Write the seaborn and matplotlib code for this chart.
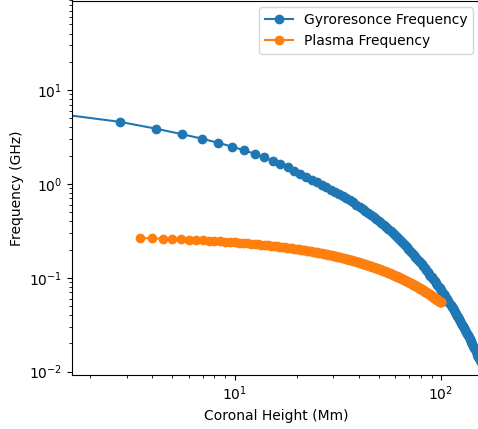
import numpy as np
import pandas as pd
import seaborn as sns
import matplotlib
matplotlib.use("Agg")
import matplotlib.pyplot as plt

# gyroresonance frequency vs coronal height
gyro_height = [
    1.39, 2.78, 4.17, 5.56, 6.95, 8.34, 9.73, 11.12, 12.51, 13.9,
    15.29, 16.68, 18.07, 19.46, 20.85, 22.24, 23.63, 25.02, 26.41, 27.8,
    29.19, 30.58, 31.97, 33.36, 34.75, 36.14, 37.53, 38.92, 40.31, 41.7,
    43.09, 44.48, 45.87, 47.26, 48.65, 50.04, 51.43, 52.82, 54.21, 55.6,
    56.99, 58.38, 59.77, 61.16, 62.55, 63.94, 65.33, 66.72, 68.11, 69.5,
    70.89, 72.28, 73.67, 75.06, 76.45, 77.84, 79.23, 80.62, 82.01, 83.4,
    84.79, 86.18, 87.57, 88.96, 90.35, 91.74, 93.13, 94.52, 95.91, 97.3,
    98.69, 100.08, 101.47, 102.86, 104.25, 105.64, 107.03, 108.42, 109.81, 111.2,
    112.59, 113.98, 115.37, 116.76, 118.15, 119.54, 120.93, 122.32, 123.71, 125.1,
    126.49, 127.88, 129.27, 130.66, 132.05, 133.44, 134.83, 136.22, 137.61, 139.0,
    140.39, 141.78, 143.17, 144.56, 145.95, 147.34, 148.73, 150.12, 151.51, 152.9,
    154.29, 155.68,
]
gyro_freq = [
    5.59, 4.59, 3.88, 3.39, 3.04, 2.74, 2.50, 2.28, 2.10, 1.92,
    1.760, 1.622, 1.497, 1.386, 1.285, 1.193, 1.109, 1.038, 0.9725, 0.9167,
    0.8676, 0.8226, 0.7806, 0.7413, 0.7044, 0.6691, 0.6358, 0.6029, 0.5716, 0.5425,
    0.5149, 0.4890, 0.4646, 0.4415, 0.4197, 0.3991, 0.3796, 0.3612, 0.3437, 0.3272,
    0.3115, 0.2968, 0.2827, 0.2693, 0.2567, 0.2446, 0.2332, 0.2224, 0.2121, 0.2022,
    0.1929, 0.1841, 0.1757, 0.1676, 0.1600, 0.1527, 0.1458, 0.1392, 0.1330, 0.1270,
    0.1213, 0.1158, 0.1107, 0.1057, 0.1010, 0.09654, 0.09226, 0.08817, 0.08429, 0.08057,
    0.07702, 0.07363, 0.07040, 0.06731, 0.06437, 0.06156, 0.05887, 0.05630, 0.05385, 0.05152,
    0.04928, 0.04715, 0.04511, 0.04316, 0.04129, 0.03951, 0.03782, 0.03619, 0.03463, 0.03314,
    0.03172, 0.03036, 0.02906, 0.02782, 0.02663, 0.02549, 0.02440, 0.02336, 0.02237, 0.02142,
    0.02051, 0.01964, 0.01881, 0.01801, 0.01725, 0.01652, 0.01582, 0.01515, 0.01451, 0.01390,
    0.01331, 0.01275,
]

# plasma frequency vs coronal height
plasma_height = [
    3.5, 4, 4.5, 5, 5.5, 6, 6.5, 7, 7.5, 8, 8.5, 9, 9.5,
    10, 10.5, 11, 11.5, 12, 12.5, 13, 13.5, 14, 14.5, 15, 15.5, 16, 16.5, 17, 17.5, 18, 18.5, 19, 19.5,
    20, 20.5, 21, 21.5, 22, 22.5, 23, 23.5, 24, 24.5, 25, 25.5, 26, 26.5, 27, 27.5, 28, 28.5, 29, 29.5,
    30, 30.5, 31, 31.5, 32, 32.5, 33, 33.5, 34, 34.5, 35, 35.5, 36, 36.5, 37, 37.5, 38, 38.5, 39, 39.5,
    40, 40.5, 41, 41.5, 42, 42.5, 43, 43.5, 44, 44.5, 45, 45.5, 46, 46.5, 47, 47.5, 48, 48.5, 49, 49.5,
    50, 50.5, 51, 51.5, 52, 52.5, 53, 53.5, 54, 54.5, 55, 55.5, 56, 56.5, 57, 57.5, 58, 58.5, 59, 59.5,
    60, 60.5, 61, 61.5, 62, 62.5, 63, 63.5, 64, 64.5, 65, 65.5, 66, 66.5, 67, 67.5, 68, 68.5, 69, 69.5,
    70, 70.5, 71, 71.5, 72, 72.5, 73, 73.5, 74, 74.5, 75, 75.5, 76, 76.5, 77, 77.5, 78, 78.5, 79, 79.5,
    80, 80.5, 81, 81.5, 82, 82.5, 83, 83.5, 84, 84.5, 85, 85.5, 86, 86.5, 87, 87.5, 88, 88.5, 89, 89.5,
    90, 90.5, 91, 91.5, 92, 92.5, 93, 93.5, 94, 94.5, 95, 95.5, 96, 96.5, 97, 97.5, 98, 98.5, 99, 99.5,
    100,
]
plasma_freq = [
    0.2657, 0.2635, 0.2614, 0.2592, 0.2571, 0.2550, 0.2530, 0.2509, 0.2488, 0.2468, 0.2448, 0.2428, 0.2408,
    0.2388, 0.2369, 0.2350, 0.2330, 0.2311, 0.2292, 0.2274, 0.2255, 0.2237, 0.2218, 0.2200, 0.2182,
    0.2165, 0.2147, 0.2129, 0.2112, 0.2095, 0.2078, 0.2061, 0.2044,
    0.2027, 0.2011, 0.1994, 0.1978, 0.1962, 0.1946, 0.1930, 0.1914, 0.1898, 0.1883,
    0.1868, 0.1852, 0.1837, 0.1822, 0.1807, 0.1792, 0.1778, 0.1763, 0.1749, 0.1735,
    0.1720, 0.1706, 0.1693, 0.1679, 0.1665, 0.1651, 0.1638, 0.1625, 0.1611, 0.1598,
    0.1585, 0.1572, 0.1559, 0.1547, 0.1534, 0.1521, 0.1509, 0.1497, 0.1484, 0.1472,
    0.1460, 0.1448, 0.1437, 0.1425, 0.1413, 0.1402, 0.1390, 0.1379, 0.1368, 0.1356,
    0.1345, 0.1334, 0.1323, 0.1313, 0.1302, 0.1291, 0.1281, 0.1270, 0.1260, 0.1250,
    0.1239, 0.1229, 0.1219, 0.1209, 0.1199, 0.1190, 0.1180, 0.1170, 0.1161, 0.1151,
    0.1142, 0.1132, 0.1123, 0.1114, 0.1105, 0.1096, 0.1087, 0.1078, 0.1069, 0.1061,
    0.1052, 0.1043, 0.1035, 0.1026, 0.1018, 0.1010, 0.1001, 0.0993, 0.0985, 0.0977,
    0.0969, 0.0961, 0.0953, 0.0946, 0.0938, 0.0930, 0.0923, 0.0915, 0.0908, 0.0900,
    0.0893, 0.0886, 0.0878, 0.0871, 0.0864, 0.0857, 0.0850, 0.0843, 0.0836, 0.0829,
    0.0823, 0.0816, 0.0809, 0.0803, 0.0796, 0.0790, 0.0783, 0.0777, 0.0770, 0.0764,
    0.0758, 0.0752, 0.0745, 0.0739, 0.0733, 0.0727, 0.0721, 0.0716, 0.0710, 0.0704,
    0.0698, 0.0692, 0.0687, 0.0681, 0.0676, 0.0670, 0.0665, 0.0659, 0.0654, 0.0648,
    0.0643, 0.0638, 0.0633, 0.0627, 0.0622, 0.0617, 0.0612, 0.0607, 0.0602, 0.0597,
    0.0592, 0.0588, 0.0583, 0.0578, 0.0573, 0.0569, 0.0564, 0.0559, 0.0555, 0.0550,
    0.0546,
]

gyro = pd.DataFrame({"height": gyro_height, "freq": gyro_freq})
plasma = pd.DataFrame({"height": plasma_height, "freq": plasma_freq})

fig = plt.figure(figsize=(4.78, 4.29), dpi=100)
# the reference is cropped: axes run off the right edge, top spine sits on the border
ax = fig.add_axes([72 / 478, 54 / 429, 408 / 478, 374.5 / 429])

sns.lineplot(data=gyro, x="height", y="freq", ax=ax, color="C0", marker="o",
             markersize=6, markeredgecolor="C0", markeredgewidth=1,
             label="Gyroresonce Frequency")
sns.lineplot(data=plasma, x="height", y="freq", ax=ax, color="C1", marker="o",
             markersize=6, markeredgecolor="C1", markeredgewidth=1,
             label="Plasma Frequency")

ax.set_xscale("log")
ax.set_yscale("log")
ax.set_xlim(1.633, 154.5)
ax.set_ylim(0.00922, 90.0)
ax.set_xlabel("Coronal Height (Mm)")
ax.set_ylabel("Frequency (GHz)")
ax.legend(loc="upper right")

fig.savefig("out.png", dpi=100)
